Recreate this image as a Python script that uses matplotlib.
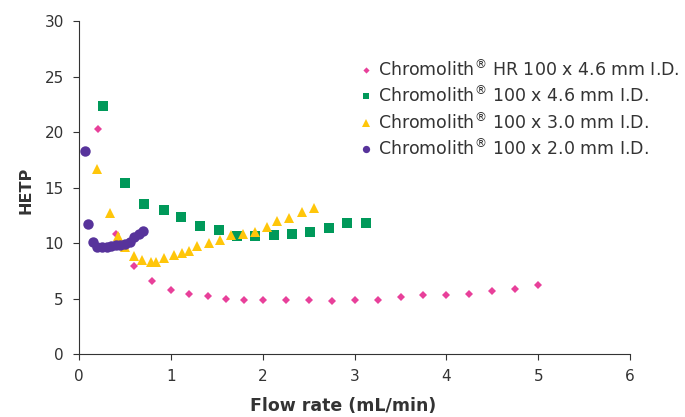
import matplotlib
matplotlib.use('Agg')
import matplotlib.pyplot as plt

# HETP vs flow rate, four Chromolith columns
hr46_x = [0.21, 0.4, 0.6, 0.8, 1.0, 1.2, 1.4, 1.6, 1.8, 2.0, 2.25, 2.5, 2.75, 3.0,
          3.25, 3.5, 3.75, 4.0, 4.25, 4.5, 4.75, 5.0]
hr46_y = [20.3, 10.8, 7.9, 6.6, 5.8, 5.4, 5.2, 5.0, 4.9, 4.9, 4.9, 4.9, 4.8, 4.9,
          4.9, 5.15, 5.3, 5.3, 5.45, 5.7, 5.9, 6.2]

c46_x = [0.26, 0.5, 0.71, 0.92, 1.11, 1.32, 1.52, 1.72, 1.92, 2.12, 2.32, 2.52, 2.72, 2.92, 3.12]
c46_y = [22.3, 15.4, 13.5, 12.95, 12.3, 11.5, 11.15, 10.6, 10.6, 10.7, 10.8, 10.95, 11.35, 11.8, 11.8]

c30_x = [0.2, 0.34, 0.43, 0.5, 0.6, 0.69, 0.78, 0.84, 0.93, 1.03, 1.12, 1.2, 1.28,
         1.41, 1.53, 1.66, 1.78, 1.92, 2.05, 2.16, 2.29, 2.43, 2.56]
c30_y = [16.7, 12.7, 10.6, 9.6, 8.8, 8.5, 8.3, 8.3, 8.65, 8.9, 9.1, 9.3, 9.7,
         10.0, 10.25, 10.7, 10.8, 11.0, 11.45, 11.95, 12.25, 12.8, 13.15]

c20_x = [0.07, 0.1, 0.15, 0.2, 0.25, 0.3, 0.35, 0.4, 0.45, 0.5, 0.55, 0.6, 0.65, 0.7]
c20_y = [18.3, 11.7, 10.1, 9.6, 9.6, 9.65, 9.75, 9.85, 9.8, 9.9, 10.1, 10.5, 10.8, 11.1]

labels = [r'Chromolith$^{\circledR}$ HR 100 x 4.6 mm I.D.',
          r'Chromolith$^{\circledR}$ 100 x 4.6 mm I.D.',
          r'Chromolith$^{\circledR}$ 100 x 3.0 mm I.D.',
          r'Chromolith$^{\circledR}$ 100 x 2.0 mm I.D.']

if __name__ == '__main__':
    matplotlib.rc('font', family='DejaVu Sans', size=11)

    fig = plt.figure(figsize=(6.85, 4.17), dpi=100)
    ax = fig.add_axes([0.1153, 0.151, 0.8047, 0.7986])

    ax.plot(hr46_x, hr46_y, 'D', color='#e8409a', markersize=4.5, markeredgewidth=0, label=labels[0])
    ax.plot(c46_x, c46_y, 's', color='#00995a', markersize=7, markeredgewidth=0, label=labels[1])
    ax.plot(c30_x, c30_y, '^', color='#ffc60a', markersize=7.5, markeredgewidth=0, label=labels[2])
    ax.plot(c20_x, c20_y, 'o', color='#57339b', markersize=7.5, markeredgewidth=0, label=labels[3])

    ax.set_xlim(0, 6)
    ax.set_ylim(0, 30)
    ax.set_xticks(range(0, 7))
    ax.set_yticks(range(0, 31, 5))
    ax.spines['top'].set_visible(False)
    ax.spines['right'].set_visible(False)
    for s in ('left', 'bottom'):
        ax.spines[s].set_color('#333333')
    ax.tick_params(color='#333333', labelcolor='#333333', length=4)
    ax.tick_params(axis='y', pad=7)
    ax.tick_params(axis='x', pad=7)

    ax.set_xlabel('Flow rate (mL/min)', fontweight='bold', color='#333333', fontsize=12.5)
    ax.xaxis.set_label_coords(0.479, -0.13)
    ax.set_ylabel('HETP', fontweight='bold', color='#333333', fontsize=11.5)
    ax.yaxis.set_label_coords(-0.082, 0.49)

    ax.legend(loc='upper left', bbox_to_anchor=(0.49, 0.907), frameon=False,
              fontsize=12.5, markerscale=0.7, handletextpad=0.05, handlelength=1.2,
              labelspacing=0.33, borderaxespad=0, labelcolor='#333333')

    fig.savefig('out.png', dpi=100)
